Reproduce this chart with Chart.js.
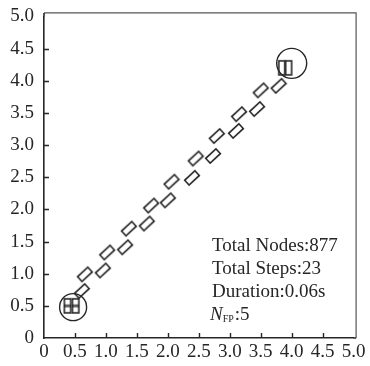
<!DOCTYPE html>
<html>
<head>
<meta charset="utf-8">
<script src="https://cdn.jsdelivr.net/npm/chart.js@4.4.1/dist/chart.umd.min.js"></script>
<style>
  html, body { margin: 0; padding: 0; background: #fff; }
  #wrap { width: 370px; height: 366px; }
</style>
</head>
<body>
<div id="wrap"><canvas id="myChart" width="370" height="366"></canvas></div>
<script>
// axis ticks
const xTicks = [0, 0.5, 1.0, 1.5, 2.0, 2.5, 3.0, 3.5, 4.0, 4.5, 5.0];
const yTicks = [0, 0.5, 1.0, 1.5, 2.0, 2.5, 3.0, 3.5, 4.0, 4.5, 5.0];

// footprints, upper row (left foot)
const leftX = [0.66, 1.02, 1.37, 1.73, 2.06, 2.45, 2.79, 3.15, 3.50];
const leftY = [0.99, 1.33, 1.70, 2.06, 2.43, 2.79, 3.14, 3.48, 3.85];
// footprints, lower row (right foot)
const rightX = [0.61, 0.95, 1.31, 1.66, 2.00, 2.39, 2.73, 3.10, 3.44, 3.79];
const rightY = [0.73, 1.05, 1.41, 1.78, 2.14, 2.49, 2.83, 3.22, 3.56, 3.92];

// standing feet at start and goal
const startX = [0.38, 0.51];
const startY = [0.50, 0.50];
const goalX = [3.84, 3.95];
const goalY = [4.20, 4.20];

// start / goal circles
const circleX = [0.47, 4.00];
const circleY = [0.48, 4.27];

const infoLines = ["Total Nodes:877", "Total Steps:23", "Duration:0.06s"];
const nfp = 5;

const ink = "#262626";
const serif = "'Liberation Serif', 'DejaVu Serif', serif";

function pts(xs, ys) {
  return xs.map((x, i) => ({ x: x, y: ys[i] }));
}

// little foot shapes drawn on canvases, used as point styles
function footCanvas(w, h, angle, divider) {
  const size = Math.ceil(Math.sqrt(w * w + h * h)) + 2;
  const c = document.createElement("canvas");
  c.width = size; c.height = size;
  const g = c.getContext("2d");
  g.translate(size / 2, size / 2);
  g.rotate(angle * Math.PI / 180);
  g.strokeStyle = ink;
  g.lineWidth = 1.6;
  g.strokeRect(-w / 2, -h / 2, w, h);
  if (divider) {
    g.fillStyle = "rgba(30,30,30,0.7)";
    g.fillRect(-w / 2, -1.5, w, 3);
  }
  return c;
}
const stepFoot = footCanvas(14, 6.5, -43, false);
const startFoot = footCanvas(6.5, 14, 0, true);
const goalFoot = footCanvas(6, 14, 0, false);

// frame, inward ticks and the text box
const framePlugin = {
  id: "frame",
  afterDraw(chart) {
    const ctx = chart.ctx;
    const xs = chart.scales.x, ys = chart.scales.y;
    const a = chart.chartArea;
    ctx.save();
    // the box line sits a little outside the 5.0 marks
    const top = a.top - 3.5, right = a.right + 2.5;
    ctx.strokeStyle = "#555";
    ctx.lineWidth = 1.2;
    ctx.beginPath();
    ctx.moveTo(a.left, top);
    ctx.lineTo(right, top);
    ctx.lineTo(right, a.bottom);
    ctx.stroke();
    ctx.strokeStyle = ink;
    ctx.lineWidth = 1.6;
    ctx.beginPath();
    ctx.moveTo(a.left, a.top);
    ctx.lineTo(a.left, top);
    ctx.moveTo(a.right, a.bottom);
    ctx.lineTo(right, a.bottom);
    ctx.stroke();

    ctx.lineWidth = 1.4;
    ctx.beginPath();
    xTicks.slice(1, -1).forEach(v => {
      const px = Math.round(xs.getPixelForValue(v)) + 0.5;
      ctx.moveTo(px, a.bottom);
      ctx.lineTo(px, a.bottom - 5);
    });
    yTicks.slice(1, -1).forEach(v => {
      const py = Math.round(ys.getPixelForValue(v)) + 0.5;
      ctx.moveTo(a.left, py);
      ctx.lineTo(a.left + 5, py);
    });
    ctx.stroke();

    ctx.fillStyle = ink;
    ctx.font = "19px " + serif;
    ctx.textBaseline = "alphabetic";
    const tx = 212;
    infoLines.forEach((t, i) => {
      ctx.fillText(t, tx, 251 + i * 23);
    });
    const by = 251 + 3 * 23;
    ctx.font = "italic 19px " + serif;
    ctx.fillText("N", tx - 2, by);
    let w = ctx.measureText("N").width;
    ctx.font = "10px " + serif;
    ctx.fillText("FP", tx - 2 + w, by + 2);
    w += ctx.measureText("FP").width;
    ctx.font = "19px " + serif;
    ctx.fillText(":" + nfp, tx - 1 + w, by);
    ctx.restore();
  }
};

const ctx = document.getElementById("myChart").getContext("2d");
const myChart = new Chart(ctx, {
  type: "scatter",
  data: {
    datasets: [
      { label: "left", data: pts(leftX, leftY), pointStyle: stepFoot, order: 1 },
      { label: "right", data: pts(rightX, rightY), pointStyle: stepFoot, order: 1 },
      { label: "start", data: pts(startX, startY), pointStyle: startFoot, order: 1 },
      { label: "goal", data: pts(goalX, goalY), pointStyle: goalFoot, order: 1 },
      {
        label: "circles",
        data: pts(circleX, circleY),
        pointStyle: "circle",
        pointRadius: [13.5, 15],
        backgroundColor: "rgba(0,0,0,0)",
        borderColor: ink,
        borderWidth: 1.4,
        order: 2
      }
    ]
  },
  options: {
    responsive: false,
    animation: false,
    events: [],
    layout: { padding: { left: 0, right: 8, top: 12, bottom: 0 } },
    plugins: {
      legend: { display: false },
      tooltip: { enabled: false }
    },
    scales: {
      x: {
        type: "linear",
        min: 0,
        max: 5,
        afterFit(scale) {
          scale.height = 28;
          scale.paddingLeft = 0;
          scale.paddingRight = 0;
        },
        afterBuildTicks(scale) { scale.ticks = xTicks.map(v => ({ value: v })); },
        grid: { display: false, drawTicks: false },
        border: { display: true, color: ink, width: 1.6 },
        ticks: {
          padding: 3,
          color: ink,
          font: { family: serif, size: 19 },
          maxRotation: 0,
          autoSkip: false,
          callback: v => v === 0 ? "0" : v.toFixed(1)
        }
      },
      y: {
        type: "linear",
        min: 0,
        max: 5,
        afterFit(scale) {
          scale.width = 44;
          scale.paddingTop = 0;
          scale.paddingBottom = 0;
        },
        afterBuildTicks(scale) { scale.ticks = yTicks.map(v => ({ value: v })); },
        grid: { display: false, drawTicks: false },
        border: { display: true, color: ink, width: 1.6 },
        ticks: {
          padding: 10,
          color: ink,
          font: { family: serif, size: 19 },
          autoSkip: false,
          callback: v => v === 0 ? "0" : v.toFixed(1)
        }
      }
    }
  },
  plugins: [framePlugin]
});
</script>
</body>
</html>
